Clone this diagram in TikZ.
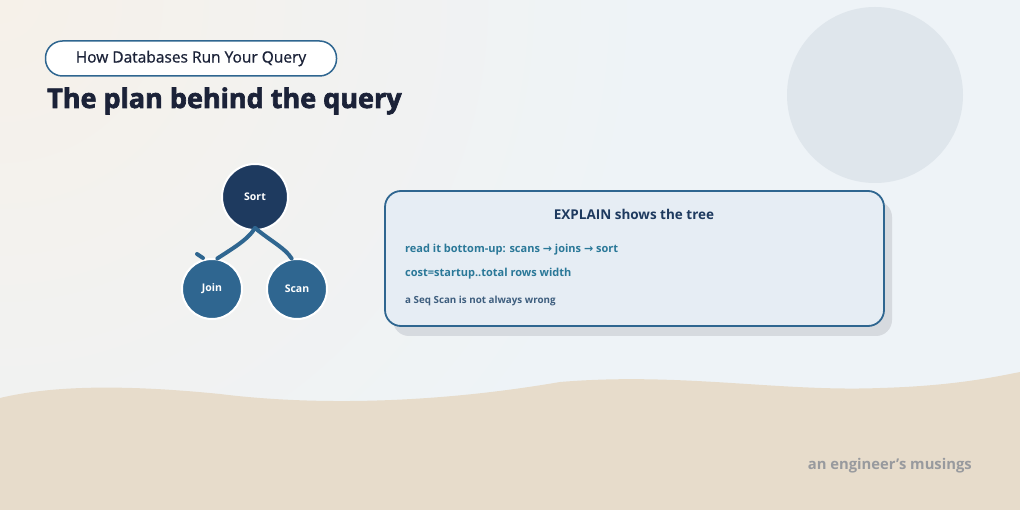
\documentclass[tikz,border=0pt]{standalone}
\usepackage{fontspec}
\setmainfont{Open Sans}
\newfontfamily\symfont{DejaVu Sans}
\newfontfamily\medfont{Open Sans}[FakeBold=0.8]
\newfontfamily\heavyfont{Open Sans}[BoldFeatures={FakeBold=2.5}]
\usetikzlibrary{positioning}
\definecolor{navy}{HTML}{1E3A5F}
\definecolor{planblue}{HTML}{2F6690}
\definecolor{inkdark}{HTML}{1B2238}
\definecolor{tealtxt}{HTML}{2A7898}
\definecolor{greyblue}{HTML}{3E5E7E}
\definecolor{sand}{HTML}{E7DCCB}
\definecolor{cardfill}{HTML}{E6EDF4}
\definecolor{warmbg}{HTML}{F6F1E9}
\definecolor{coolbg}{HTML}{EEF3F7}
\newcommand{\rarr}{{\symfont\char"2192}}
\tikzset{
  plannode/.style={circle, draw=white, line width=2pt, text=white,
    font=\fontsize{10.5}{12}\selectfont\bfseries},
  planedge/.style={planblue, line width=4pt, line cap=round},
  cardline/.style={anchor=base west, inner sep=0pt, font=\fontsize{11}{13}\selectfont\bfseries}
}

\begin{document}
\begin{tikzpicture}[x=1pt,y=-1pt]
  \useasboundingbox (0,0) rectangle (1020,510);
  % background
  \fill[coolbg] (0,0) rectangle (1020,510);
  \begin{scope}
    \clip (0,0) rectangle (1020,510);
    \shade[inner color=warmbg, outer color=coolbg] (0,0) circle (650);
  \end{scope}
  \fill[color={rgb,255:red,223;green,230;blue,236}] (875,95) circle (88);
  \fill[sand] (0,398) .. controls (50,386) and (120,384) .. (220,394)
    .. controls (300,404) and (420,406) .. (560,382)
    .. controls (680,372) and (780,392) .. (880,388)
    .. controls (950,386) and (990,378) .. (1020,372) -- (1020,510) -- (0,510) -- cycle;

  % header
  \node[draw=planblue, line width=1.5pt, fill=white, rounded corners=17pt,
    minimum width=291pt, minimum height=35pt, text=inkdark,
    font=\medfont\fontsize{15.5}{18}\selectfont] (pill) at (191,58.5) {How Databases Run Your Query};
  \node[anchor=base west, inner sep=0pt, text=inkdark,
    font=\heavyfont\fontsize{27}{32}\selectfont\bfseries] (title) at (47,108) {The plan behind the query};

  % plan tree
  \node[plannode, fill=navy, minimum size=66pt] (sort) at (255,197) {Sort};
  \node[plannode, fill=planblue, minimum size=60pt] (join) at (212,289) {Join};
  \node[plannode, fill=planblue, minimum size=60pt] (scan) at (297,289) {Scan};
  \draw[planedge] ([yshift=3pt]sort.south) .. controls (248,240) and (230,250) .. (join.80);
  \draw[planedge] ([yshift=3pt]sort.south) .. controls (272,242) and (285,248) .. (scan.100);
  \draw[planedge] ([xshift=-9pt]join.north) -- ++(-6,-4);

  % card
  \fill[rounded corners=16pt, color={rgb,255:red,214;green,218;blue,223}] (393,201) rectangle (892,336);
  \draw[planblue, line width=1.8pt, fill=cardfill, rounded corners=16pt] (385,191) rectangle (884,326);
  \node[text=navy, font=\fontsize{13.5}{16}\selectfont\bfseries] (cardtitle) at (634,214) {EXPLAIN shows the tree};
  \node[cardline, text=tealtxt] (line1) at (405,253) {read it bottom-up: scans \rarr{} joins \rarr{} sort};
  \node[cardline, text=tealtxt] (line2) at (405,277) {cost=startup..total rows width};
  \node[cardline, text=greyblue, font=\fontsize{9.8}{12}\selectfont\bfseries] (line3) at (405,304) {a Seq Scan is not always wrong};

  % footer
  \node[anchor=base east, inner sep=0pt, text={rgb,255:red,152;green,154;blue,158},
    font=\fontsize{14.8}{17}\selectfont\bfseries] (footer) at (972,469) {an engineer's musings};
\end{tikzpicture}
\end{document}
